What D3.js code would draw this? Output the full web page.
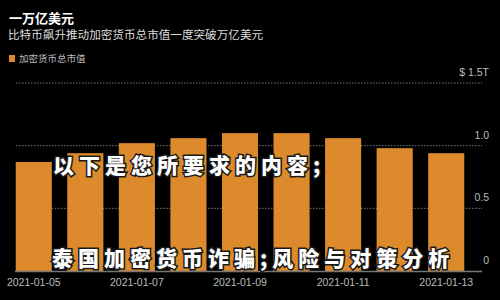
<!DOCTYPE html>
<html>
<head>
<meta charset="utf-8">
<script src="https://cdn.jsdelivr.net/npm/d3@7"></script>
<style>
  html, body { margin: 0; padding: 0; background: #000; }
  svg { display: block; font-family: "Noto Sans CJK SC", "Noto Sans", sans-serif; }
  .grid line { stroke: #777; stroke-dasharray: 1.5 1.5; }
  .baseline { stroke: #777; stroke-width: 1.5; }
  .y-label { fill: #bbb; font-size: 10.5px; font-family: "Liberation Sans", sans-serif; }
  .x-label { fill: #bbb; font-size: 10.5px; font-family: "Liberation Sans", sans-serif; }
  .overlay { fill: #fff; stroke: #1a1a1a; stroke-width: 3px; paint-order: stroke; font-weight: 900; font-size: 21px; letter-spacing: 5px; }
</style>
</head>
<body>
<svg id="chart" width="500" height="300"></svg>
<script>
var dates = ['2021-01-05', '2021-01-06', '2021-01-07', '2021-01-08', '2021-01-09',
  '2021-01-10', '2021-01-11', '2021-01-12', '2021-01-13'];
var marketCap = [0.87, 0.94, 1.02, 1.06, 1.10, 1.10, 1.06, 0.98, 0.94];
var yTicks = [0, 0.5, 1.0, 1.5];
var yTickLabels = ['0', '0.5', '1.0', '$ 1.5T'];
var xTickLabels = ['2021-01-05', '2021-01-07', '2021-01-09', '2021-01-11', '2021-01-13'];

(function (d3) {
  'use strict';
  var svg = d3.select('#chart');
  var orange = '#dc8a2b';

  svg.append('rect').attr('width', 500).attr('height', 300).attr('fill', '#000');

  /** Header */
  svg.append('text').attr('x', 9).attr('y', 23).attr('fill', '#fff')
    .attr('font-size', 13).attr('font-weight', 700).text('一万亿美元');
  svg.append('text').attr('x', 8).attr('y', 39).attr('fill', '#ddd')
    .attr('font-size', 11.6).text('比特币飙升推动加密货币总市值一度突破万亿美元');
  svg.append('rect').attr('x', 9).attr('y', 55).attr('width', 6).attr('height', 7).attr('fill', orange);
  svg.append('text').attr('x', 19).attr('y', 62).attr('fill', '#bbb')
    .attr('font-size', 9.5).text('加密货币总市值');

  /** Scales */
  var x = d3.scaleBand().domain(dates).range([8, 472]).paddingInner(0.3).paddingOuter(0.15);
  var y = d3.scaleLinear().domain([0, 1.5]).range([271, 83]);

  // dotted gridlines
  svg.append('g').attr('class', 'grid').selectAll('line')
    .data(yTicks.filter(function (t) { return t > 0; }))
    .enter().append('line')
    .attr('x1', 16).attr('x2', 482)
    .attr('y1', function (d) { return y(d); }).attr('y2', function (d) { return y(d); });

  // bars
  svg.append('g').selectAll('rect').data(marketCap)
    .enter().append('rect')
    .attr('x', function (d, i) { return x(dates[i]); })
    .attr('width', x.bandwidth())
    .attr('y', function (d) { return y(d); })
    .attr('height', function (d) { return y(0) - y(d); })
    .attr('fill', orange);

  svg.append('line').attr('class', 'baseline')
    .attr('x1', 15).attr('x2', 482).attr('y1', y(0) + 0.5).attr('y2', y(0) + 0.5);

  // y labels on the right
  svg.append('g').selectAll('text').data(yTicks)
    .enter().append('text').attr('class', 'y-label')
    .attr('x', 489).attr('text-anchor', 'end')
    .attr('y', function (d) { return y(d) - 7; })
    .text(function (d, i) { return yTickLabels[i]; });

  // x labels
  svg.append('g').selectAll('text').data(xTickLabels)
    .enter().append('text').attr('class', 'x-label')
    .attr('x', function (d) { return x(d) + x.bandwidth() / 2; })
    .attr('y', 286).attr('text-anchor', 'middle')
    .text(function (d) { return d; });

  /** Overlaid captions */
  svg.append('text').attr('class', 'overlay').attr('x', 53).attr('y', 173)
    .text('以下是您所要求的内容;');
  svg.append('text').attr('class', 'overlay').attr('x', 52).attr('y', 266)
    .text('泰国加密货币诈骗;风险与对策分析');
})(d3);
</script>
</body>
</html>
